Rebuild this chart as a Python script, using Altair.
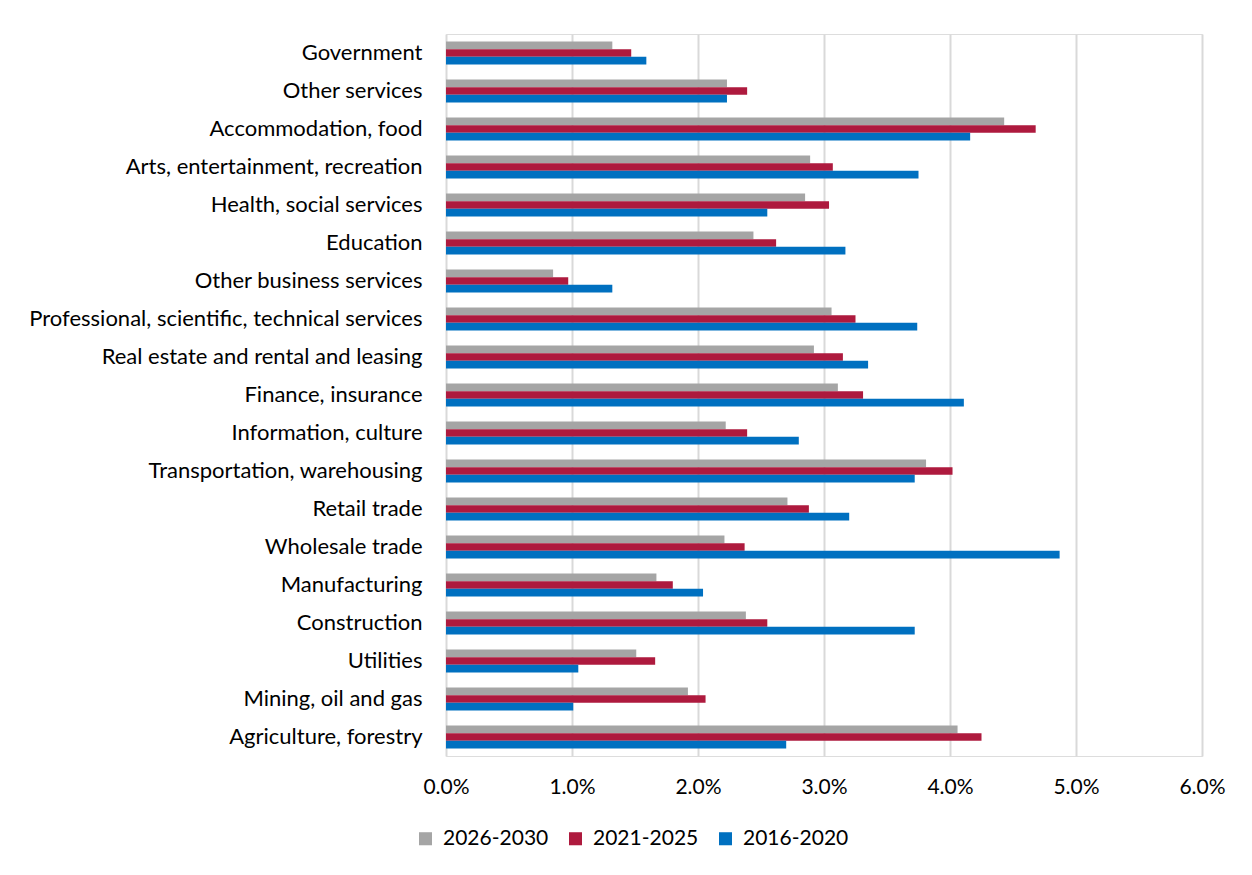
import altair as alt
import pandas as pd

categories = [
    "Government", "Other services", "Accommodation, food",
    "Arts, entertainment, recreation", "Health, social services", "Education",
    "Other business services", "Professional, scientific, technical services",
    "Real estate and rental and leasing ", "Finance, insurance",
    "Information, culture", "Transportation, warehousing", "Retail trade",
    "Wholesale trade", "Manufacturing", "Construction", "Utilities",
    "Mining, oil and gas", "Agriculture, forestry",
]
series = ["2026-2030", "2021-2025", "2016-2020"]
v2026_2030 = [1.32, 2.23, 4.43, 2.89, 2.85, 2.44, 0.85, 3.06, 2.92, 3.11,
              2.22, 3.81, 2.71, 2.21, 1.67, 2.38, 1.51, 1.92, 4.06]
v2021_2025 = [1.47, 2.39, 4.68, 3.07, 3.04, 2.62, 0.97, 3.25, 3.15, 3.31,
              2.39, 4.02, 2.88, 2.37, 1.80, 2.55, 1.66, 2.06, 4.25]
v2016_2020 = [1.59, 2.23, 4.16, 3.75, 2.55, 3.17, 1.32, 3.74, 3.35, 4.11,
              2.80, 3.72, 3.20, 4.87, 2.04, 3.72, 1.05, 1.01, 2.70]
colors = ["#A5A5A5", "#AE1A3E", "#0070C0"]

rows = []
for s, vals in zip(series, [v2026_2030, v2021_2025, v2016_2020]):
    for c, v in zip(categories, vals):
        rows.append({"category": c, "series": s, "value": v / 100})
df = pd.DataFrame(rows)

FONT = "Lato"

chart = alt.Chart(df).mark_bar().encode(
    y=alt.Y("category:N", sort=categories,
            scale=alt.Scale(paddingInner=0.4, paddingOuter=0.2),
            axis=alt.Axis(title=None, labelFontSize=22, labelFont=FONT,
                          labelColor="#000000", labelPadding=24, ticks=False,
                          domain=False, labelLimit=600)),
    yOffset=alt.YOffset("series:N", sort=series),
    x=alt.X("value:Q",
            scale=alt.Scale(domain=[0, 0.06], nice=False),
            axis=alt.Axis(title=None, format=".1%", values=[0, 0.01, 0.02, 0.03, 0.04, 0.05, 0.06],
                          labelFontSize=21, labelFont=FONT, labelColor="#000000",
                          labelPadding=20, labelFlush=False, ticks=False, domain=False,
                          grid=True, gridColor="#D9D9D9", gridWidth=2)),
    color=alt.Color("series:N", sort=series,
                    scale=alt.Scale(domain=series, range=colors),
                    legend=alt.Legend(title=None, orient="none", direction="horizontal",
                                      legendX=-31, legendY=794,
                                      symbolType="square", symbolSize=170,
                                      symbolStrokeWidth=0,
                                      labelFontSize=21, labelFont=FONT, labelColor="#000000",
                                      labelOffset=7, columnPadding=16)),
).properties(
    width=756, height=722,
    padding={"left": 438, "top": 26, "right": 30, "bottom": 110},
    autosize=alt.AutoSizeParams(type="none"),
).configure_view(stroke="transparent").configure(background="white")

chart.save("out.html", embed_options={"renderer": "svg", "actions": False})
